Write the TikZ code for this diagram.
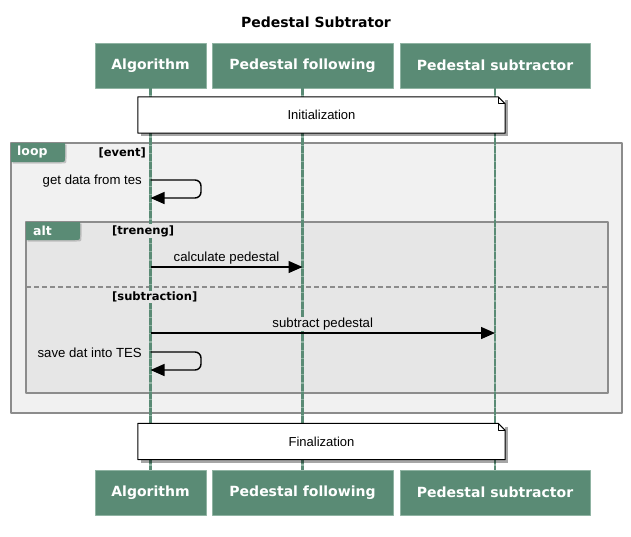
\documentclass[tikz,border=0pt]{standalone}
\usepackage{fontspec}
\setmainfont{DejaVu Sans}
\newfontfamily\msgfont{Liberation Sans}
\usetikzlibrary{arrows.meta,shadows,calc}
\definecolor{actorgreen}{HTML}{5A8B75}
\definecolor{actorline}{HTML}{8FB3A2}
\definecolor{loopfill}{HTML}{F1F1F1}
\definecolor{altfill}{HTML}{E6E6E6}
\definecolor{framegray}{HTML}{8C8C8C}
\tikzset{
    actor/.style={fill=actorgreen, draw=actorline, line width=0.8pt, text=white,
        font=\fontsize{14}{16}\selectfont\bfseries, minimum height=45pt, inner sep=0pt},
    lifeline/.style={draw=actorgreen, line width=2.6pt, dash pattern=on 7pt off 1.2pt,
        preaction={draw=actorline, line width=2.6pt, solid}},
    frame/.style={draw=framegray, line width=1.5pt},
    tab/.style={fill=actorgreen, drop shadow={shadow xshift=1.5pt, shadow yshift=-1.5pt, opacity=0.4}},
    tabtext/.style={text=white, font=\fontsize{12.5}{14}\selectfont\bfseries, anchor=west, inner sep=0pt},
    guard/.style={font=\fontsize{11.5}{13}\selectfont\bfseries, inner sep=1pt},
    msg/.style={line width=1.4pt, -{Triangle[length=14pt, width=12pt]}},
    msgtext/.style={font=\msgfont\fontsize{13.2}{15}\selectfont, inner sep=1pt},
    note/.style={fill=white, minimum width=367pt, minimum height=36pt, inner sep=0pt,
        font=\msgfont\fontsize{13}{15}\selectfont,
        drop shadow={shadow xshift=3pt, shadow yshift=-3pt, fill=black, opacity=0.35}}
}
\begin{document}
\begin{tikzpicture}[line cap=butt, line join=round, x=1pt, y=-1pt]
    \useasboundingbox (0,0) rectangle (631,536);
    \node[font=\fontsize{14}{16}\selectfont\bfseries] (title) at (316,22) {Pedestal Subtrator};
    % frames
    \draw[frame, fill=loopfill] (11,143) rectangle (622,413);
    \draw[frame, fill=altfill] (26,222) rectangle (608,393);
    \draw[framegray, line width=1.3pt, dash pattern=on 5pt off 3pt] (26,287) -- (608,287);
    % participants
    \foreach \name/\x/\w/\txt in {alg/150.5/111/Algorithm, fol/302.5/181/Pedestal following, sub/495/190/Pedestal subtractor} {
        \node[actor, minimum width=\w] (\name top) at (\x,65.5) {\txt};
        \node[actor, minimum width=\w] (\name bot) at (\x,492.5) {\txt};
    }
    \foreach \name in {alg, fol, sub}
        \draw[lifeline] (\name top) -- (\name bot);
    % tabs and guards
    \fill[tab] (11,143) -- (65,143) -- (65,157) .. controls (65,162) .. (60,162) -- (11,162) -- cycle;
    \node[tabtext] (loop) at (17,152) {loop};
    \node[guard, anchor=east, fill=loopfill] (event) at (147,153) {[event]};
    \fill[tab] (26,222) -- (80,222) -- (80,235) .. controls (80,240) .. (75,240) -- (26,240) -- cycle;
    \node[tabtext] (alt) at (33,231) {alt};
    \node[guard, anchor=west, fill=altfill] (treneng) at (111,231) {[treneng]};
    \node[guard, anchor=west, fill=altfill] (subtraction) at (111,297) {[subtraction]};
    % messages
    \coordinate (ga) at (150.5,180);
    \coordinate (gb) at (201,180);
    \coordinate (gc) at (201,198);
    \coordinate (gd) at (150.5,198);
    \coordinate (ca) at (150.5,267);
    \coordinate (cb) at (302.5,267);
    \coordinate (sa) at (150.5,333);
    \coordinate (sb) at (495,333);
    \coordinate (va) at (150.5,352);
    \coordinate (vb) at (201,352);
    \coordinate (vc) at (201,370);
    \coordinate (vd) at (150.5,370);
    \draw[msg, rounded corners=6pt] (ga) -- (gb) -- (gc) -- (gd);
    \node[msgtext, anchor=east] (get) at (143,181) {get data from tes};
    \draw[msg] (ca) -- node[msgtext, above=1.5pt, fill=altfill] (calc) {calculate pedestal} (cb);
    \draw[msg] (sa) -- node[msgtext, above=1.5pt, fill=altfill] (subtract) {subtract pedestal} (sb);
    \draw[msg, rounded corners=6pt] (va) -- (vb) -- (vc) -- (vd);
    \node[msgtext, anchor=east] (save) at (143,353) {save dat into TES};
    % notes
    \foreach \name/\y/\txt in {init/115/Initialization, final/441.5/Finalization} {
        \node[note] (\name) at (321.5,\y) {\txt};
        \draw[line width=1pt] (\name.north west) -- ($(\name.north east)+(-7,0)$) -- ($(\name.north east)+(0,7)$)
            -- (\name.south east) -- (\name.south west) -- cycle;
        \draw[line width=0.8pt] ($(\name.north east)+(-7,0)$) |- ($(\name.north east)+(0,7)$);
    }
\end{tikzpicture}
\end{document}
